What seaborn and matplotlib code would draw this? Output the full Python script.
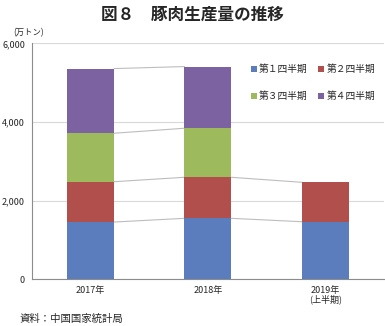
import numpy as np
import pandas as pd
import matplotlib
matplotlib.use("Agg")
import matplotlib.pyplot as plt
import seaborn as sns
from matplotlib.lines import Line2D

years = ["2017年", "2018年", "2019年\n(上半期)"]
quarters = ["第１四半期", "第２四半期", "第３四半期", "第４四半期"]
q1 = [1458, 1552, 1466]
q2 = [1025, 1043, 1002]
q3 = [1232, 1247, np.nan]
q4 = [1644, 1568, np.nan]
colors = ["#5B7DBE", "#B04F4C", "#9DBB5C", "#7D62A1"]
yticks = [0, 2000, 4000, 6000]

sns.set_theme(style="white")
plt.rcParams['font.family'] = ['Noto Sans CJK JP', 'DejaVu Sans']

series = [q1, q2, q3, q4]
cum = np.cumsum(np.array(series, dtype=float), axis=0)

fig = plt.figure(figsize=(3.85, 3.26), dpi=100)
ax = fig.add_axes([0.083, 0.143, 0.914, 0.724])

for i in range(3, -1, -1):
    df = pd.DataFrame({"year": years, "value": cum[i]}).dropna()
    sns.barplot(data=df, x="year", y="value", order=years, color=colors[i],
                width=0.4, saturation=1, ax=ax, zorder=3, linewidth=0)

# connecting lines
w = 0.4
for i in range(4):
    for j in range(2):
        a, b = cum[i][j], cum[i][j + 1]
        if np.isnan(a) or np.isnan(b):
            continue
        ax.plot([j + w / 2, j + 1 - w / 2], [a, b], color="#BDBDBD", lw=0.8, zorder=2)

ax.set_xlim(-0.5, 2.5)
ax.set_ylim(0, 6000)
ax.set_yticks(yticks)
ax.set_yticklabels([f"{v:,}" for v in yticks], fontsize=6.5)
ax.tick_params(axis="y", length=0, pad=5)
ax.tick_params(axis="x", length=0, pad=5, labelsize=6.5)
ax.set_xlabel("")
ax.set_ylabel("")
for lbl in ax.get_xticklabels():
    lbl.set_linespacing(0.9)
ax.grid(axis="y", color="#D9D9D9", lw=0.8, zorder=0)
for s in ["top", "right"]:
    ax.spines[s].set_visible(False)
for s in ["left", "bottom"]:
    ax.spines[s].set_color("#8C8C8C")
    ax.spines[s].set_linewidth(0.8)

handles = [Line2D([], [], marker="s", linestyle="none", markersize=5,
                  markerfacecolor=c, markeredgewidth=0) for c in colors]
order = [0, 2, 1, 3]
ax.legend([handles[k] for k in order], [quarters[k] for k in order], ncol=2,
          loc="upper right", bbox_to_anchor=(1.0, 0.95),
          frameon=False, fontsize=7, handletextpad=0.1, columnspacing=1.0,
          labelspacing=1.8, handlelength=0.8)

fig.text(0.5, 0.955, "図８　豚肉生産量の推移", ha="center", va="center",
         fontsize=12, fontweight="bold")
fig.text(0.035, 0.9, "(万トン)", ha="left", va="center", fontsize=6)
fig.text(0.05, 0.005, "資料：中国国家統計局", ha="left", va="bottom", fontsize=7.5)

fig.savefig("out.png", dpi=100)
